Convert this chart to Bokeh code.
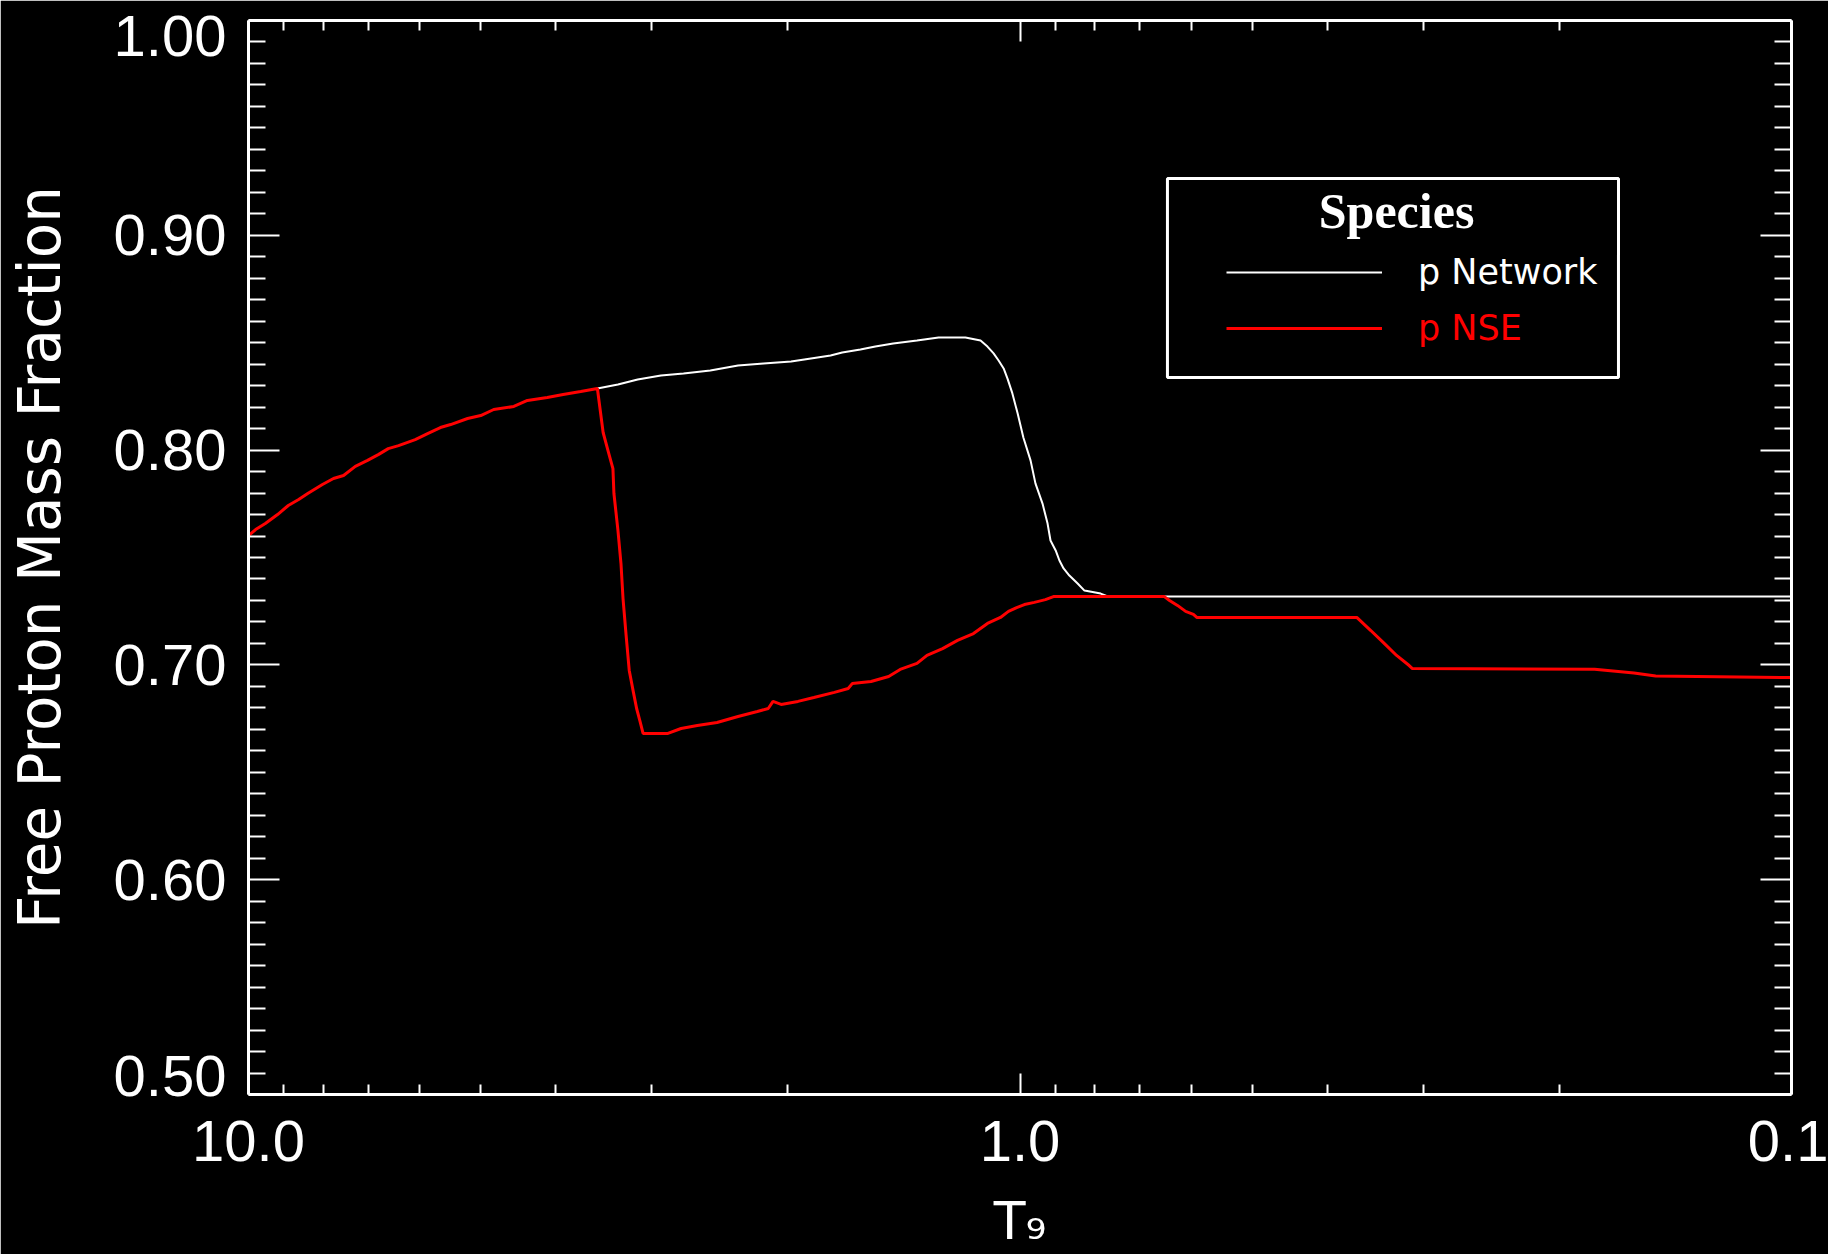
import numpy as np
from bokeh.plotting import figure
from bokeh.models import (Range1d, FixedTicker, PrintfTickFormatter, LogAxis, LinearAxis,
                          Legend, LegendItem, Label, CustomJSTickFormatter, BoxAnnotation)
from bokeh.embed import file_html
from bokeh.resources import INLINE

# ---------------- data ----------------
t_network = [3.53, 3.32, 3.13, 2.92, 2.73, 2.52, 2.32, 2.15, 1.98, 1.83, 1.76, 1.70, 1.61,
             1.54, 1.46, 1.36, 1.275, 1.177, 1.125, 1.102, 1.082, 1.066, 1.050, 1.038, 1.023,
             1.007, 0.990, 0.969, 0.955, 0.935, 0.921, 0.913, 0.899, 0.889, 0.878, 0.863,
             0.842, 0.825, 0.786, 0.768, 0.10]
frac_network = [0.8287, 0.8305, 0.8329, 0.8347, 0.8357, 0.8371, 0.8394, 0.8403, 0.8412, 0.8431,
                0.8440, 0.8454, 0.8468, 0.8482, 0.8496, 0.8510, 0.8524, 0.8524, 0.8510, 0.8482,
                0.8450, 0.8417, 0.8380, 0.8333, 0.8264, 0.8170, 0.8059, 0.7952, 0.7845, 0.7751,
                0.7658, 0.7579, 0.7533, 0.7486, 0.7449, 0.7416, 0.7379, 0.7346, 0.7332, 0.7318,
                0.7318]

t_nse = [10.0, 9.79, 9.51, 9.17, 8.88, 8.61, 8.38, 8.02, 7.76, 7.53, 7.27, 7.01, 6.78, 6.59,
         6.39, 6.08, 5.86, 5.64, 5.47, 5.20, 5.00, 4.81, 4.53, 4.35, 4.10, 3.91, 3.71, 3.53,
         3.47, 3.42, 3.37, 3.36, 3.32, 3.29, 3.27, 3.24, 3.21, 3.17, 3.14, 3.11, 3.08,
         2.86, 2.75, 2.62, 2.47, 2.32, 2.19, 2.12, 2.09, 2.04, 1.94, 1.85, 1.74, 1.67, 1.65,
         1.56, 1.48, 1.43, 1.36, 1.32, 1.26, 1.205, 1.149, 1.102, 1.060, 1.035, 1.010, 0.987,
         0.958, 0.927, 0.905, 0.650, 0.640, 0.625, 0.610, 0.596, 0.590, 0.366, 0.351, 0.338,
         0.325, 0.313, 0.310, 0.18, 0.16, 0.15, 0.10]
frac_nse = [0.7602, 0.7630, 0.7658, 0.7700, 0.7742, 0.7770, 0.7798, 0.7840, 0.7868, 0.7882,
            0.7924, 0.7952, 0.7980, 0.8007, 0.8021, 0.8049, 0.8077, 0.8105, 0.8119, 0.8147,
            0.8161, 0.8189, 0.8203, 0.8231, 0.8245, 0.8259, 0.8273, 0.8287,
            0.8082, 0.7998, 0.7914, 0.7798, 0.7626, 0.7472, 0.7309, 0.7137, 0.6974, 0.6872,
            0.6797, 0.6741, 0.6681,
            0.6681, 0.6704, 0.6718, 0.6732, 0.6760, 0.6783, 0.6797, 0.6830, 0.6816, 0.6830,
            0.6848, 0.6872, 0.6890, 0.6913, 0.6923, 0.6946, 0.6979, 0.7007, 0.7044, 0.7076,
            0.7114, 0.7146, 0.7193, 0.7221, 0.7249, 0.7267, 0.7281, 0.7291, 0.7304, 0.7318,
            0.7318, 0.7300, 0.7277, 0.7249, 0.7235, 0.7221, 0.7221, 0.7160, 0.7104, 0.7044,
            0.6997, 0.6983, 0.6980, 0.6962, 0.6948, 0.6941]

x_major_ticks = [10.0, 1.0, 0.1]
x_minor_ticks = [9.0, 8.0, 7.0, 6.0, 5.0, 4.0, 3.0, 2.0,
                 0.9, 0.8, 0.7, 0.6, 0.5, 0.4, 0.3, 0.2]
y_major_ticks = [0.5, 0.6, 0.7, 0.8, 0.9, 1.0]
y_minor_ticks = [round(0.5 + 0.01 * i, 2) for i in range(51) if i % 10 != 0]
# where the y tick labels sit: the two end labels are pulled inside the frame,
# as in the original
y_label_positions = [0.5084, 0.6, 0.7, 0.8, 0.9, 0.9926]

x_title = "T₉"
y_title = "Free Proton Mass Fraction"
legend_title = "Species"
label_network = "p Network"
label_nse = "p NSE"

# ---------------- figure ----------------
p = figure(width=1828, height=1254, x_axis_type="log",
           x_range=Range1d(10, 0.1), y_range=Range1d(0.5, 1.0),
           output_backend="svg", toolbar_location=None,
           min_border_left=248, min_border_right=37, min_border_top=20, min_border_bottom=160,
           background_fill_color="black", border_fill_color="black")
p.outline_line_color = None
p.grid.visible = False

xticker = FixedTicker(ticks=x_major_ticks, minor_ticks=x_minor_ticks)
yticker = FixedTicker(ticks=y_major_ticks, minor_ticks=y_minor_ticks)
blank = CustomJSTickFormatter(code="return ''")

TICK_FONT = "Liberation Sans"
TICK_SIZE = "58px"


def style(ax, major_in, minor_in):
    ax.axis_line_color = "white"
    ax.axis_line_width = 3
    ax.major_tick_line_color = "white"
    ax.major_tick_line_width = 2
    ax.major_tick_in = major_in
    ax.major_tick_out = 0
    ax.minor_tick_line_color = "white"
    ax.minor_tick_line_width = 2
    ax.minor_tick_in = minor_in
    ax.minor_tick_out = 0
    ax.major_label_text_color = "white"
    ax.major_label_text_font = TICK_FONT
    ax.major_label_text_font_size = TICK_SIZE
    ax.axis_label_text_color = "white"
    ax.axis_label_text_font_style = "normal"


xa = p.xaxis[0]
xa.ticker = xticker
xa.formatter = PrintfTickFormatter(format="%.1f")
style(xa, 21, 10)
xa.major_label_standoff = 26
xa.axis_label = x_title
xa.axis_label_text_font = "DejaVu Sans"
xa.axis_label_text_font_size = "52px"
xa.axis_label_standoff = 27

# inner left axis: line and tick marks only
ya = p.yaxis[0]
ya.ticker = yticker
ya.formatter = blank
style(ya, 31, 17)
ya.major_label_standoff = 0

# outer left axis: the tick labels and the title
yl = LinearAxis(ticker=FixedTicker(ticks=y_label_positions, minor_ticks=[]),
                formatter=CustomJSTickFormatter(code="return (Math.round(tick * 10) / 10).toFixed(2)"))
style(yl, 0, 0)
yl.axis_line_color = None
yl.major_tick_line_color = None
yl.minor_tick_line_color = None
yl.major_label_standoff = 22
yl.axis_label = y_title
yl.axis_label_text_font = "DejaVu Sans"
yl.axis_label_text_font_size = "58px"
yl.axis_label_standoff = 37
p.add_layout(yl, "left")

top = LogAxis(ticker=xticker, formatter=blank)
style(top, 21, 10)
top.major_label_standoff = 0
p.add_layout(top, "above")

right = LinearAxis(ticker=yticker, formatter=blank)
style(right, 31, 17)
right.major_label_standoff = 0
p.add_layout(right, "right")

# ---------------- data lines ----------------
r_net = p.line(t_network, frac_network, line_color="white", line_width=2)
r_nse = p.line(t_nse, frac_nse, line_color="#ff0000", line_width=3)

# ---------------- legend ----------------
box = BoxAnnotation(left=0.644, right=0.1676, top=0.9264, bottom=0.8338,
                    fill_color="black", fill_alpha=1.0,
                    line_color="white", line_width=3, line_alpha=1.0)
p.add_layout(box)


def legend_style(lg):
    lg.padding = 0
    lg.spacing = 0
    lg.glyph_width = 156
    lg.glyph_height = 40
    lg.label_standoff = 36
    lg.label_text_font = "DejaVu Sans"
    lg.label_text_font_size = "35px"
    lg.border_line_color = None
    lg.background_fill_alpha = 0.0


legend1 = Legend(items=[LegendItem(label=label_network, renderers=[r_net])])
legend_style(legend1)
legend1.label_text_color = "white"
legend1.location = (978, 802)
p.add_layout(legend1, "center")

legend2 = Legend(items=[LegendItem(label=label_nse, renderers=[r_nse])])
legend_style(legend2)
legend2.label_text_color = "#ff0000"
legend2.location = (978, 746)
p.add_layout(legend2, "center")

title_lbl = Label(x=0.325, y=0.9115, text=legend_title, text_color="white",
                  text_font="Liberation Serif", text_font_style="bold", text_font_size="50px",
                  text_align="center", text_baseline="middle", level="overlay")
p.add_layout(title_lbl)

open("out.html", "w").write(file_html(p, INLINE))
